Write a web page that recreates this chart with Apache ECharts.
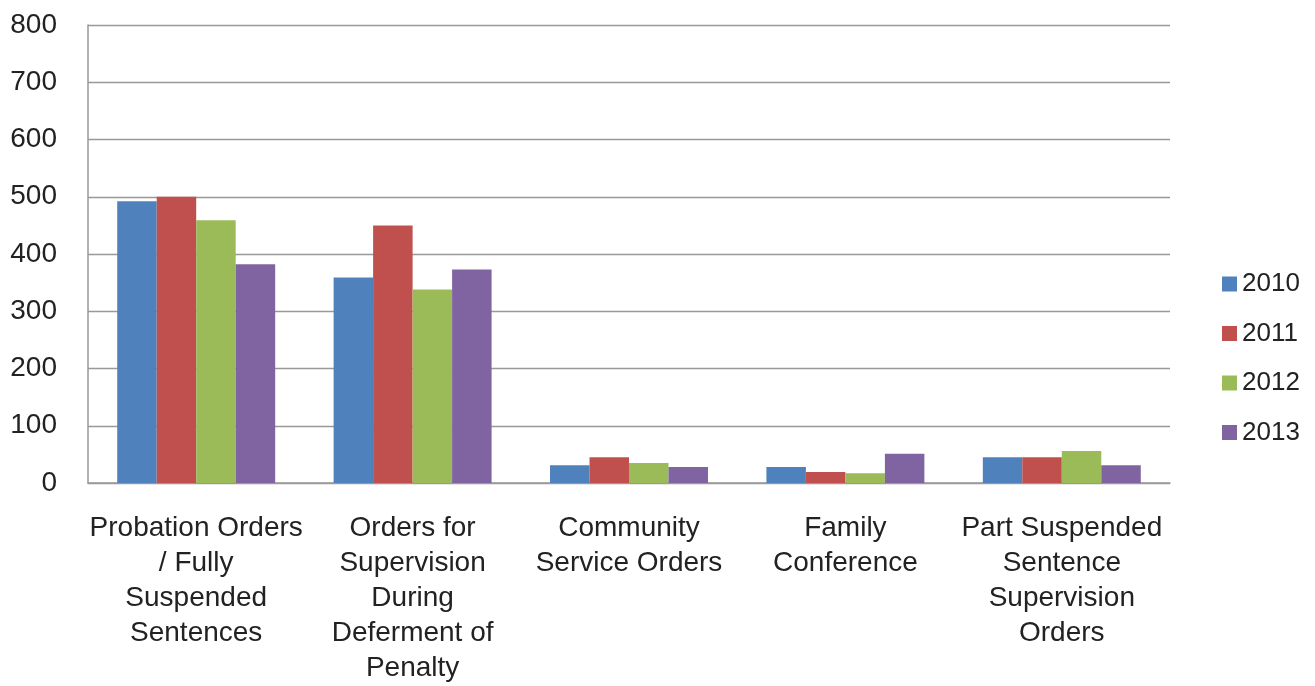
<!DOCTYPE html>
<html><head><meta charset="utf-8">
<script src="https://cdn.jsdelivr.net/npm/echarts@6/dist/echarts.min.js"></script>
<style>html,body{margin:0;padding:0;background:#fff}#c{width:1315px;height:686px}</style>
</head><body><div id="c"></div>
<script>
const categories = [
  "Probation Orders\n/ Fully\nSuspended\nSentences",
  "Orders for\nSupervision\nDuring\nDeferment of\nPenalty",
  "Community\nService Orders",
  "Family\nConference",
  "Part Suspended\nSentence\nSupervision\nOrders"
];
const years = ["2010", "2011", "2012", "2013"];
const v2010 = [492, 359, 31, 28, 45];
const v2011 = [500, 450, 45, 19, 45];
const v2012 = [459, 338, 35, 17, 56];
const v2013 = [382, 373, 28, 51, 31];
const colors = ["#4F81BD", "#C0504D", "#9BBB59", "#8064A2"];
const seriesData = [v2010, v2011, v2012, v2013];

const chart = echarts.init(document.getElementById('c'));
const font = 'Liberation Sans, Arial, sans-serif';
chart.setOption({
  animation: false,
  grid: {left: 88, right: 145, top: 25, bottom: 199, containLabel: false},
  legend: {
    orient: 'vertical', left: 1217, top: 266,
    itemWidth: 15, itemHeight: 15, itemGap: 23.5, itemTextGap: 9,
    icon: 'rect',
    textStyle: {fontSize: 26, fontFamily: font, color: '#222'},
    data: years
  },
  xAxis: {
    type: 'category', data: categories,
    axisLine: {lineStyle: {color: '#999', width: 1.5}},
    axisTick: {show: false},
    axisLabel: {fontSize: 28, fontFamily: font, color: '#222', lineHeight: 35, margin: 28, interval: 0}
  },
  yAxis: {
    type: 'value', min: 0, max: 800, interval: 100,
    axisLine: {show: true, lineStyle: {color: '#999', width: 1.5}},
    axisTick: {show: false},
    splitLine: {lineStyle: {color: '#999', width: 1.3}},
    axisLabel: {fontSize: 28, fontFamily: font, color: '#222', margin: 31}
  },
  series: years.map((y, i) => ({
    name: y, type: 'bar', data: seriesData[i],
    barGap: '0%', barCategoryGap: '27%',
    itemStyle: {color: colors[i]}
  }))
});
</script></body></html>
